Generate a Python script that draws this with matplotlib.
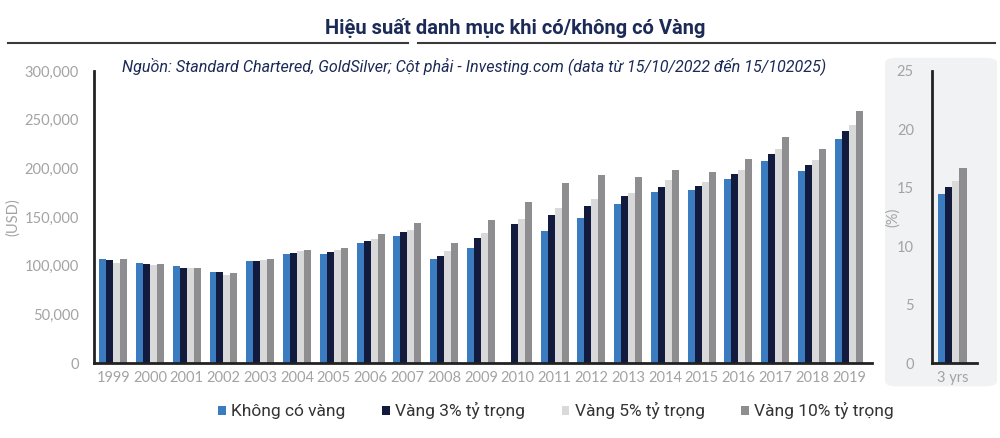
import numpy as np
import matplotlib
matplotlib.use("Agg")
import matplotlib.pyplot as plt
from matplotlib.patches import FancyBboxPatch, Patch
from matplotlib.lines import Line2D
from matplotlib.ticker import FuncFormatter

years = [str(y) for y in range(1999, 2020)]
series_names = ["Không có vàng", "Vàng 3% tỷ trọng", "Vàng 5% tỷ trọng", "Vàng 10% tỷ trọng"]
no_gold = [107000, 102900, 99800, 93000, 105300, 112000, 111800, 122800, 130300, 107300, 118000,
           np.nan, 136100, 148500, 163200, 175200, 177300, 189000, 207100, 197200, 230500]
gold_3 = [106000, 101500, 98000, 93300, 105300, 113500, 113900, 125500, 134800, 110400, 128600,
          142700, 151900, 160800, 171100, 180700, 182100, 194100, 215000, 203700, 238700]
gold_5 = [103000, 101000, 97700, 90900, 106000, 114900, 115600, 127600, 136800, 114900, 133400,
          148100, 158800, 169000, 174600, 187600, 185500, 197900, 220200, 208800, 244200]
gold_10 = [107000, 102000, 98000, 92600, 107000, 116600, 118000, 133000, 144000, 122800, 146800,
           165300, 184500, 193400, 190700, 198200, 195800, 209900, 231800, 219800, 258600]
right_category = ["3 yrs"]
right_values = [14.5, 15.1, 15.6, 16.7]

colors = ["#3b7cc0", "#121a3e", "#d9d9d9", "#8e8e90"]
left_ticks = [0, 50000, 100000, 150000, 200000, 250000, 300000]
right_ticks = [0, 5, 10, 15, 20, 25]

tick_color = "#a3a3a3"
tick_font = "Lato"
tick_size = 10.5

fig = plt.figure(figsize=(10, 4.38), dpi=100)

# right panel background
panel = FancyBboxPatch((0.885, 0.118), 0.112, 0.75, boxstyle="round,pad=0,rounding_size=0.012",
                       transform=fig.transFigure, facecolor="#f1f2f4", edgecolor="none", zorder=-5)
fig.patches.append(panel)

# Title
fig.text(0.5155, 0.936, "Hiệu suất danh mục khi có/không có Vàng", ha="center", va="center",
         fontsize=14.5, fontweight="bold", color="#1b2a57", family="Roboto")
fig.add_artist(Line2D([0.008, 0.408], [0.902, 0.902], transform=fig.transFigure, color="#3a3a3a", lw=1.5))
fig.add_artist(Line2D([0.418, 0.995], [0.902, 0.902], transform=fig.transFigure, color="#3a3a3a", lw=1.5))

# Left axes
ax = fig.add_axes([0.094, 0.1712, 0.778, 0.6667])
x = np.arange(len(years))
w = 0.19
data = [no_gold, gold_3, gold_5, gold_10]
for i, (vals, c) in enumerate(zip(data, colors)):
    ax.bar(x + (i - 1.5) * w, vals, width=w, color=c, zorder=2)
ax.set_xlim(-0.52, 20.63)
ax.set_ylim(0, 300000)
ax.set_yticks(left_ticks)
ax.yaxis.set_major_formatter(FuncFormatter(lambda v, p: f"{int(v):,}"))
ax.set_xticks(x)
ax.set_xticklabels(years)
for s in ["top", "right"]:
    ax.spines[s].set_visible(False)
for s in ["left", "bottom"]:
    ax.spines[s].set_linewidth(2)
    ax.spines[s].set_color("#222222")
ax.tick_params(axis="both", length=0, colors=tick_color, labelsize=tick_size)
ax.tick_params(axis="y", pad=11)
ax.tick_params(axis="x", pad=6)
for lab in ax.get_xticklabels() + ax.get_yticklabels():
    lab.set_family(tick_font)
ax.set_ylabel("(USD)", color=tick_color, fontsize=tick_size, family=tick_font, labelpad=3)
ax.patch.set_alpha(0)

# Subtitle
fig.text(0.474, 0.849, "Nguồn: Standard Chartered, GoldSilver; Cột phải - Investing.com (data từ 15/10/2022 đến 15/102025)",
         ha="center", va="center", fontsize=11.6, style="italic", color="#1b2a57", family="Roboto")

# Right axes
ax2 = fig.add_axes([0.932, 0.1712, 0.045, 0.6667])
w2 = 0.156
for i, (v, c) in enumerate(zip(right_values, colors)):
    ax2.bar([0 + (i - 1.5) * w2], [v], width=w2, color=c, zorder=2)
ax2.set_xlim(-0.455, 0.545)
ax2.set_ylim(0, 25)
ax2.set_yticks(right_ticks)
ax2.set_xticks([0])
ax2.set_xticklabels(right_category)
for s in ["top", "right"]:
    ax2.spines[s].set_visible(False)
for s in ["left", "bottom"]:
    ax2.spines[s].set_linewidth(2)
    ax2.spines[s].set_color("#222222")
ax2.tick_params(axis="both", length=0, colors=tick_color, labelsize=tick_size)
ax2.tick_params(axis="y", pad=13)
ax2.tick_params(axis="x", pad=6)
for lab in ax2.get_xticklabels() + ax2.get_yticklabels():
    lab.set_family(tick_font)
ax2.set_ylabel("(%)", color=tick_color, fontsize=tick_size, family=tick_font, labelpad=-2)
ax2.patch.set_alpha(0)

# Legend
handles = [Patch(facecolor=c, edgecolor="none") for c in colors]
fig.legend(handles, series_names, loc="center", bbox_to_anchor=(0.556, 0.062), ncol=4, frameon=False,
           handlelength=0.45, handleheight=0.45, handletextpad=0.3, columnspacing=2.1,
           prop={"family": "Roboto", "size": 12.5}, labelcolor="#333333")

fig.savefig("out.png", dpi=100)
